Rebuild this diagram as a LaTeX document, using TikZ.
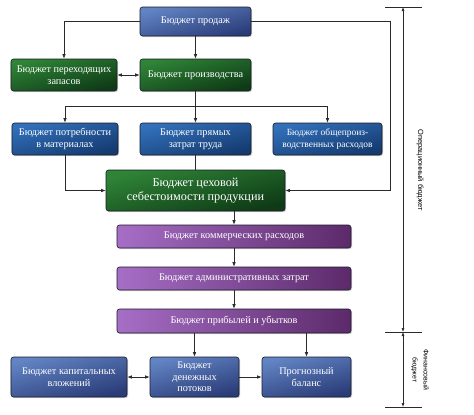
\documentclass[tikz,border=0pt]{standalone}
\usepackage{fontspec}
\setmainfont{Liberation Serif}
\newfontfamily\labelsans{Liberation Sans}
\usetikzlibrary{arrows.meta,shadows}
\definecolor{blueA}{HTML}{6284C4}
\definecolor{blueB}{HTML}{2A3C78}
\definecolor{midA}{HTML}{3270BA}
\definecolor{midB}{HTML}{143A70}
\definecolor{greenA}{HTML}{2F8437}
\definecolor{greenB}{HTML}{0E3A16}
\definecolor{purA}{HTML}{A66EC6}
\definecolor{purB}{HTML}{5C2A6A}
\definecolor{boxline}{HTML}{1B1B26}
\definecolor{linec}{HTML}{2A2A2A}
\begin{document}
\begin{tikzpicture}[x=1bp,y=-1bp,
  box/.style={draw=boxline, line width=0.6pt, rounded corners=2.5bp, text=white,
    align=center, inner sep=0pt, font=\fontsize{10.3}{12}\selectfont,
    drop shadow={opacity=0.35, shadow xshift=1bp, shadow yshift=-1.2bp}},
  bluebox/.style={box, top color=blueA, bottom color=blueB, shading angle=15},
  midbox/.style={box, top color=midA, bottom color=midB, shading angle=15},
  greenbox/.style={box, top color=greenA, bottom color=greenB, shading angle=15},
  purbox/.style={box, left color=purA, right color=purB},
  arr/.style={draw=linec, line width=0.7pt, -{Latex[length=4.5bp,width=3.6bp]}},
  darr/.style={draw=linec, line width=0.7pt, {Latex[length=4.5bp,width=3.6bp]}-{Latex[length=4.5bp,width=3.6bp]}},
  plain/.style={draw=linec, line width=0.7pt},
  dimtip/.style={draw=linec, line width=0.6pt, {Latex[length=4bp,width=3bp]}-{Latex[length=4bp,width=3bp]}},
  dimlabel/.style={rotate=-90, align=center, text=black, font=\labelsans\fontsize{7.5}{10}\selectfont}
]
\useasboundingbox[fill=white] (0,0) rectangle (474,414);

% boxes
\node[bluebox, minimum width=111bp, minimum height=29bp] (sales) at (195.5,21.5) {Бюджет продаж};
\node[greenbox, minimum width=106bp, minimum height=32bp] (stock) at (64,75) {Бюджет переходящих\\запасов};
\node[greenbox, minimum width=111bp, minimum height=32bp] (prod) at (195.5,75) {Бюджет производства};
\node[midbox, minimum width=106bp, minimum height=32bp] (mat) at (65,139) {Бюджет потребности\\в материалах};
\node[midbox, minimum width=111bp, minimum height=32bp] (labor) at (195.5,139) {Бюджет прямых\\затрат труда};
\node[midbox, minimum width=109bp, minimum height=32bp, font=\fontsize{9.5}{12}\selectfont] (over) at (327.5,139) {Бюджет общепроиз-\\водственных расходов};
\node[greenbox, minimum width=179bp, minimum height=41bp, font=\fontsize{12.3}{14}\selectfont] (cost) at (195.5,190.5) {Бюджет цеховой\\себестоимости продукции};
\node[purbox, minimum width=234bp, minimum height=23bp] (comm) at (234,236.5) {Бюджет коммерческих расходов};
\node[purbox, minimum width=234bp, minimum height=23bp] (adm) at (234,278.5) {Бюджет административных затрат};
\node[purbox, minimum width=234bp, minimum height=24bp] (pl) at (234,321) {Бюджет прибылей и убытков};
\node[bluebox, minimum width=116bp, minimum height=40bp] (cap) at (69,377) {Бюджет капитальных\\вложений};
\node[bluebox, minimum width=89bp, minimum height=40bp, font=\fontsize{10.3}{11.5}\selectfont] (cash) at (194.5,377) {Бюджет\\денежных\\потоков};
\node[bluebox, minimum width=89bp, minimum height=40bp] (bal) at (306.5,377) {Прогнозный\\баланс};

% connectors
\coordinate (rside) at (390,190.5);
\coordinate (split) at (195.5,106);
\draw[arr] (sales.west) -| (stock.north);
\draw[arr] (sales.south) -- (prod.north);
\draw[arr] (sales.east) -| (rside) -- (cost.east);
\draw[darr] (stock.east) -- (prod.west);
\draw[plain] (prod.south) -- (split);
\draw[arr] (split) -| (mat.north);
\draw[arr] (split) -| (over.north);
\draw[arr] (split) -- (labor.north);
\draw[arr] (mat.south) |- (cost.west);
\draw[plain] (labor.south) -- (cost.north);
\draw[arr] (cost.south -| comm.north) -- (comm.north);
\draw[arr] (comm.south) -- (adm.north);
\draw[arr] (adm.south) -- (pl.north);
\draw[arr] (pl.south -| cash.north) -- (cash.north);
\draw[arr] (pl.south -| bal.north) -- (bal.north);
\draw[darr] (cap.east) -- (cash.west);
\draw[arr] (cash.east) -- (bal.west);

% dimension lines
\coordinate (d1) at (403,7);
\coordinate (d2) at (403,332);
\coordinate (d3) at (403,407);
\coordinate (t1l) at (385,7);  \coordinate (t1r) at (422,7);
\coordinate (t2l) at (385,332); \coordinate (t2r) at (422,332);
\coordinate (t3l) at (385,407); \coordinate (t3r) at (422,407);
\draw[draw=linec, line width=0.6pt] (t1l) -- (t1r);
\draw[draw=linec, line width=0.6pt] (t2l) -- (t2r);
\draw[draw=linec, line width=0.6pt] (t3l) -- (t3r);
\draw[dimtip] (d1) -- (d2);
\draw[dimtip] (d2) -- (d3);
\node[dimlabel] (oplab) at (420,170) {Операционный бюджет};
\node[dimlabel, font=\labelsans\fontsize{7}{11}\selectfont] (finlab) at (420,370) {Финансовый\\бюджет};
\end{tikzpicture}
\end{document}
